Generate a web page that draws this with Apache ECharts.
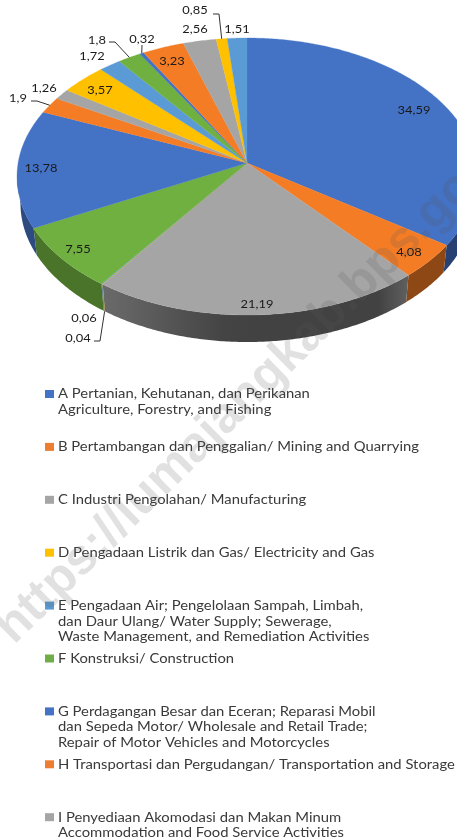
<!DOCTYPE html>
<html><head><meta charset="utf-8">
<style>html,body{margin:0;padding:0;background:#fff}#c{width:457px;height:840px;filter:blur(0.35px)}</style>
<script src="https://cdn.jsdelivr.net/npm/echarts@6/dist/echarts.min.js"></script>
</head><body><div id="c"></div>
<script>
// ---- data ----
const valueLabels = ['34,59','4,08','21,19','0,04','0,06','7,55','13,78','1,9','1,26','3,57','1,72','1,8','0,32','3,23','2,56','0,85','1,51'];
const values = [34.59,4.08,21.19,0.04,0.06,7.55,13.78,1.9,1.26,3.57,1.72,1.8,0.32,3.23,2.56,0.85,1.51];
const sliceColors = ['#4472C4','#F47C25','#A5A5A5','#FFC000','#5B9BD5','#70B040','#4472C4','#F47C25','#A5A5A5','#FFC000','#5B9BD5','#70B040','#4472C4','#F47C25','#A5A5A5','#FFC000','#5B9BD5'];
const legendTexts = [
 'A Pertanian, Kehutanan, dan Perikanan\nAgriculture, Forestry, and Fishing',
 'B Pertambangan dan Penggalian/ Mining and Quarrying',
 'C Industri Pengolahan/ Manufacturing',
 'D Pengadaan Listrik dan Gas/ Electricity and Gas',
 'E Pengadaan Air; Pengelolaan Sampah, Limbah,\ndan Daur Ulang/ Water Supply; Sewerage,\nWaste Management, and Remediation Activities',
 'F Konstruksi/ Construction',
 'G Perdagangan Besar dan Eceran; Reparasi Mobil\ndan Sepeda Motor/ Wholesale and Retail Trade;\nRepair of Motor Vehicles and Motorcycles',
 'H Transportasi dan Pergudangan/ Transportation and Storage',
 'I Penyediaan Akomodasi dan Makan Minum\nAccommodation and Food Service Activities'];
const legendColors = ['#4472C4','#ED7D31','#A5A5A5','#FFC000','#5B9BD5','#70AD47','#4472C4','#ED7D31','#A5A5A5'];
const watermark = 'https://lumajangkab.bps.go.id';

// ---- layout (not data) ----
const cx = 247, cy = 163, R = 228.9, S = 137.2, P = 0.0975, DEPTH = 27, BOTTOM_K = 0.985;
const labelPos = [[414,110],[409,252],[257,304],[78,338],[84,318],[78,249],[41,168],[18,98],[44,88],[100,90],[92,56],[97,40],[142,39],[172,61],[195,29],[195,10],[237,29]];
const leaders = {7:[[31,101],[37,101]],11:[[109,42],[115,42]],12:[[142,45],[142,45]],15:[[213,14],[219,14]],3:[[94,341],[100,341]]};
const legendTop = 394, legendStep = 52.9, legendX = 58, TXT = 1.185;

const total = values.reduce((a,b)=>a+b,0);
let run = 0;
const starts = values.map(v=>{const s=run; run+=v; return s;});
const toAngle = v => v/total*2*Math.PI;
function rim(t){
  const u=Math.sin(t), v=-Math.cos(t), w=1-P*v;
  return [cx+R*u/w, cy+S*v/w];
}
function bottomOf(p){ return [cx+(p[0]-cx)*BOTTOM_K, p[1]+DEPTH]; }
function shade(hex,f){
  const n=parseInt(hex.slice(1),16);
  return 'rgb('+[(n>>16)&255,(n>>8)&255,n&255].map(c=>Math.round(c*f)).join(',')+')';
}
const wallF = x => x<230 ? 0.40+0.25*(230-x)/130*(x>100?1:130/130) : (x<405 ? 0.40 : 0.58);
const vis0 = Math.acos(-P), vis1 = 2*Math.PI-vis0;

function renderSlice(params, api){
  const i = params.dataIndex, a0=toAngle(api.value(1)), a1=toAngle(api.value(1)+api.value(0));
  const col = sliceColors[i], children=[];
  const w0=Math.max(a0,vis0), w1=Math.min(a1,vis1);
  if(w1>w0){
    const n=Math.ceil((w1-w0)/0.01)+1, top=[], bot=[];
    for(let k=0;k<n;k++){const p=rim(w0+(w1-w0)*k/(n-1)); top.push(p); bot.unshift(bottomOf(p));}
    const xa=top[0][0], xb=top[n-1][0], xl=Math.min(xa,xb), xr=Math.max(xa,xb);
    const stops=[];
    for(let s=0;s<=10;s++){ stops.push({offset:s/10,color:shade(col,Math.min(0.66,wallF(xl+(xr-xl)*s/10)))}); }
    children.push({type:'polygon',shape:{points:top.concat(bot)},style:{fill:new echarts.graphic.LinearGradient(0,0,1,0,stops)}});
  }
  const n=Math.max(2,Math.ceil((a1-a0)/0.01)+1), pts=[[cx,cy]];
  for(let k=0;k<n;k++) pts.push(rim(a0+(a1-a0)*k/(n-1)));
  children.push({type:'polygon',z2:10,shape:{points:pts},style:{fill:col,stroke:col,lineWidth:0.3}});
  return {type:'group',children};
}
function renderLabel(params, api){
  const i=params.dataIndex, children=[];
  if(leaders[i]){
    const mid=toAngle(api.value(1)+api.value(0)/2);
    let e=rim(mid);
    if(i===3) e=bottomOf(e);
    children.push({type:'polyline',shape:{points:[leaders[i][0],leaders[i][1],e]},style:{fill:null,stroke:'#333',lineWidth:1}});
  }
  children.push({type:'text',x:labelPos[i][0],y:labelPos[i][1],scaleX:1.12,
    style:{text:valueLabels[i],font:'11.5px Lato',fill:'#1a1a1a',align:'center',verticalAlign:'middle'}});
  return {type:'group',children};
}
const data = values.map((v,i)=>[v,starts[i]]);
const graphics = [];
legendTexts.forEach((t,i)=>{
  const y=legendTop+legendStep*i;
  graphics.push({type:'rect',x:45,y:y-4,shape:{width:9,height:8},style:{fill:legendColors[i]}});
  graphics.push({type:'text',x:legendX,y:y-7.5,scaleX:TXT,style:{text:t,font:'12.5px Lato',fill:'#3a3a3a',lineHeight:15.6,verticalAlign:'top',align:'left'}});
});
graphics.push({type:'text',x:4.3,y:635.5,rotation:0.778,z:100,
  style:{text:watermark,font:'bold 50px "Liberation Sans"',fill:'rgba(90,90,90,0.18)',verticalAlign:'middle',align:'left'}});

const chart = echarts.init(document.getElementById('c'),null,{renderer:'canvas'});
chart.setOption({
  animation:false,
  backgroundColor:'#fff',
  graphic:{elements:graphics},
  series:[
    {type:'custom',coordinateSystem:'none',renderItem:renderSlice,data:data,silent:true,z:2},
    {type:'custom',coordinateSystem:'none',renderItem:renderLabel,data:data,silent:true,z:3}
  ]
});
</script></body></html>
